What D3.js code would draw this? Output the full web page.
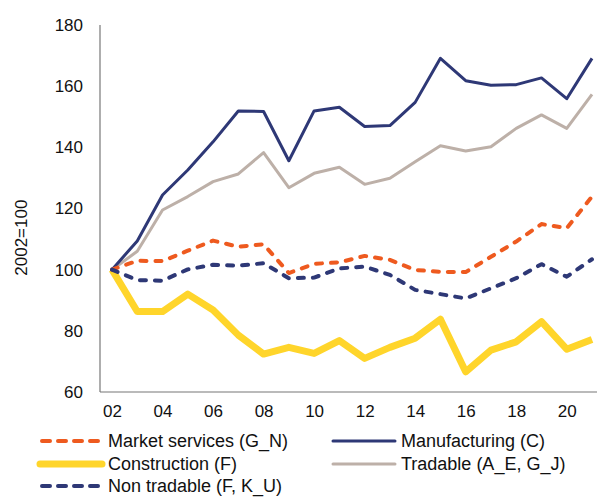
<!DOCTYPE html>
<html>
<head>
<meta charset="utf-8">
<script src="https://cdn.jsdelivr.net/npm/d3@7"></script>
<style>
  body { margin: 0; background: #fff; }
  text { font-family: Arial, "Liberation Sans", sans-serif; fill: #111; }
</style>
</head>
<body>
<div id="chart"></div>
<script>
// Values (2002 = 100)
var years = d3.range(2002, 2022);
var marketServices = [100, 102.9, 102.8, 106.2, 109.5, 107.5, 108.3, 98.9, 101.9, 102.4, 104.5, 103.2, 99.9, 99.3, 99.2, 104.2, 109.2, 114.9, 113.6, 123.9];
var manufacturing = [100, 109.4, 124.4, 132.6, 141.8, 151.9, 151.7, 135.6, 151.9, 153.1, 146.8, 147.1, 154.7, 169.1, 161.8, 160.3, 160.5, 162.7, 155.9, 169.1];
var construction = [100, 86.3, 86.3, 92, 86.8, 78.6, 72.4, 74.6, 72.6, 76.8, 71, 74.6, 77.6, 83.8, 66.6, 73.7, 76.4, 83, 74, 77.2];
var tradable = [100, 106, 119.5, 123.9, 128.8, 131.3, 138.3, 126.8, 131.5, 133.5, 127.9, 129.9, 135.3, 140.5, 138.8, 140.2, 146.2, 150.6, 146.2, 157.3];
var nonTradable = [100, 96.6, 96.4, 100.1, 101.6, 101.3, 102.1, 97.2, 97.4, 100.4, 101, 98.3, 93.4, 92, 90.6, 93.9, 97.2, 101.8, 97.7, 103.4];

var yTicks = [60, 80, 100, 120, 140, 160, 180];
var xTicks = [2002, 2004, 2006, 2008, 2010, 2012, 2014, 2016, 2018, 2020];

var series = [
  { name: "Market services (G_N)", values: marketServices, color: "#EE5A1F", width: 4, dash: "6,9" },
  { name: "Manufacturing (C)", values: manufacturing, color: "#2E3876", width: 3, dash: null },
  { name: "Construction (F)", values: construction, color: "#FFD52B", width: 7, dash: null },
  { name: "Tradable (A_E, G_J)", values: tradable, color: "#BDB0A8", width: 3, dash: null },
  { name: "Non tradable (F, K_U)", values: nonTradable, color: "#2E3876", width: 4, dash: "6,9" }
];

var svgWidth = 597;
var svgHeight = 497;

var margin = { top: 25, right: 0, bottom: 105, left: 100 };
var chartHeight = svgHeight - margin.top - margin.bottom;

var svg = d3.select("#chart")
  .append("svg")
  .attr("width", svgWidth)
  .attr("height", svgHeight);

var x = d3.scaleLinear()
  .domain([2002, 2021])
  .range([112, 592]);

var y = d3.scaleLinear()
  .domain([60, 180])
  .range([margin.top + chartHeight, margin.top]);

// axes
var leftAxis = svg.append("g")
  .attr("transform", `translate(${margin.left}, 0)`)
  .call(d3.axisLeft(y).tickValues(yTicks).tickSize(0).tickPadding(17));

var bottomAxis = svg.append("g")
  .attr("transform", `translate(0, ${y(60)})`)
  .call(d3.axisBottom(x).tickValues(xTicks).tickSize(0).tickPadding(13)
    .tickFormat(d => String(d % 100).padStart(2, "0")));

[leftAxis, bottomAxis].forEach(function(g) {
  g.select(".domain").remove();
  g.selectAll("text")
    .attr("font-size", "17px")
    .attr("font-family", "Arial, 'Liberation Sans', sans-serif")
    .attr("fill", "#111");
});

svg.append("line")
  .attr("x1", margin.left).attr("x2", margin.left)
  .attr("y1", y(180)).attr("y2", y(60))
  .attr("stroke", "#777").attr("stroke-width", 1.2);

svg.append("line")
  .attr("x1", margin.left).attr("x2", svgWidth)
  .attr("y1", y(60)).attr("y2", y(60))
  .attr("stroke", "#777").attr("stroke-width", 1.2);

svg.append("text")
  .attr("transform", `translate(27, ${y(100) - 32}) rotate(-90)`)
  .attr("text-anchor", "middle")
  .attr("font-size", "17px")
  .text("2002=100");

// lines (drawn so construction sits under the others)
var drawLine = d3.line()
  .x((d, i) => x(years[i]))
  .y(d => y(d));

var drawOrder = [2, 3, 1, 0, 4];
drawOrder.forEach(function(k) {
  var s = series[k];
  svg.append("path")
    .attr("d", drawLine(s.values))
    .attr("fill", "none")
    .attr("stroke", s.color)
    .attr("stroke-width", s.width)
    .attr("stroke-linejoin", "round")
    .attr("stroke-linecap", s.dash ? "round" : "butt")
    .attr("stroke-dasharray", s.dash);
});

// legend
var legendPos = [
  { x: 40, y: 441 },
  { x: 333, y: 441 },
  { x: 40, y: 464 },
  { x: 333, y: 464 },
  { x: 40, y: 486 }
];

series.forEach(function(s, i) {
  var p = legendPos[i];
  var g = svg.append("g").attr("transform", `translate(${p.x}, ${p.y})`);
  g.append("line")
    .attr("x1", s.dash ? 2 : 0).attr("x2", 62)
    .attr("y1", 0).attr("y2", 0)
    .attr("stroke", s.color)
    .attr("stroke-width", s.width)
    .attr("stroke-linecap", "round")
    .attr("stroke-dasharray", s.dash ? "8,8" : null);
  g.append("text")
    .attr("x", 68)
    .attr("y", 0)
    .attr("dy", "0.34em")
    .attr("font-size", "18px")
    .text(s.name);
});
</script>
</body>
</html>
